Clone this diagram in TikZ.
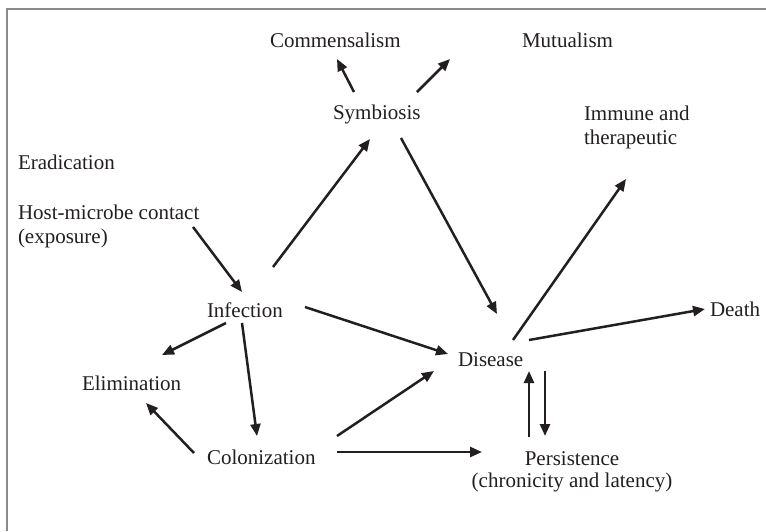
\documentclass[tikz,border=0pt]{standalone}
\usepackage{fontspec}
\setmainfont{Liberation Serif}
\usetikzlibrary{arrows.meta}
\definecolor{txt}{HTML}{231F20}
\definecolor{frame}{HTML}{8A8A8A}
\tikzset{
  lbl/.style={inner sep=0pt, outer sep=0pt, text=txt, font=\fontsize{21}{24}\selectfont, anchor=base west},
  arr/.style={line width=2.5pt, draw=txt, -{Triangle[length=12pt,width=10pt]}}
}
\begin{document}
\begin{tikzpicture}[x=1pt,y=-1pt]
\useasboundingbox (0,0) rectangle (766,531);
\fill[white] (0,0) rectangle (766,531);
\draw[frame, line width=2pt] (7,531) -- (7,9) -- (766,9);

\node[lbl] (com) at (270,47) {Commensalism};
\node[lbl] (mut) at (522,47) {Mutualism};
\node[lbl] (sym) at (333,119) {Symbiosis};
\node[lbl] (imm) at (584,120) {\begin{tabular}[t]{@{}l@{}}Immune and\\therapeutic\end{tabular}};
\node[lbl] (era) at (18,169) {Eradication};
\node[lbl] (host) at (18,219) {\begin{tabular}[t]{@{}l@{}}Host-microbe contact\\(exposure)\end{tabular}};
\node[lbl] (inf) at (207,317) {Infection};
\node[lbl] (dea) at (710,316) {Death};
\node[lbl] (dis) at (458,366) {Disease};
\node[lbl] (eli) at (82,390) {Elimination};
\node[lbl] (col) at (207,464) {Colonization};
\node[lbl, anchor=base, font=\fontsize{21}{22}\selectfont] (pers) at (572,465) {\begin{tabular}[t]{@{}c@{}}Persistence\\(chronicity and latency)\end{tabular}};

\draw[arr] ([shift={(21,-27)}]sym.base west) -- ([shift={(67,12)}]com.base west);
\draw[arr] ([shift={(84,-27)}]sym.base west) -- ([shift={(-72,12)}]mut.base west);
\draw[arr] ([shift={(66,-50)}]inf.base west) -- ([shift={(37,20)}]sym.base west);
\draw[arr] ([shift={(68,19)}]sym.base west) -- ([shift={(39,-52)}]dis.base west);
\draw[arr] ([shift={(55,-26)}]dis.base west) -- ([shift={(42,59)}]imm.base west);
\draw[arr] ([shift={(71,-26)}]dis.base west) -- ([shift={(-5,-7)}]dea.base west);
\draw[arr] ([shift={(175,8)}]host.base west) -- ([shift={(35,-25)}]inf.base west);
\draw[arr] ([shift={(98,-10)}]inf.base west) -- ([shift={(-10,-12)}]dis.base west);
\draw[arr] ([shift={(19,6)}]inf.base west) -- ([shift={(80,-35)}]eli.base west);
\draw[arr] ([shift={(35,6)}]inf.base west) -- ([shift={(50,-28)}]col.base west);
\draw[arr] ([shift={(-13,-11)}]col.base west) -- ([shift={(64,13)}]eli.base west);
\draw[arr] ([shift={(130,-28)}]col.base west) -- ([shift={(-24,5)}]dis.base west);
\draw[arr] ([shift={(130,-12)}]col.base west) -- ([shift={(-90,-13)}]pers.base);
\draw[arr] ([shift={(-43,-28)}]pers.base) -- ([shift={(71,5)}]dis.base west);
\draw[arr] ([shift={(87,5)}]dis.base west) -- ([shift={(-27,-29)}]pers.base);
\end{tikzpicture}
\end{document}
